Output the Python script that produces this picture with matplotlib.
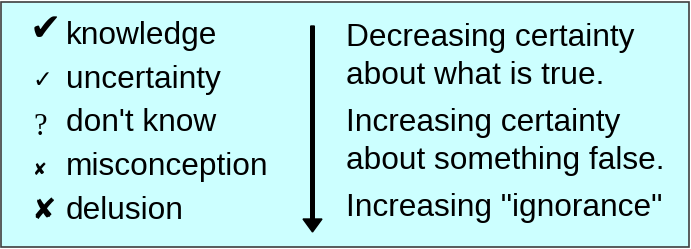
import matplotlib.pyplot as plt
from matplotlib.patches import Rectangle, FancyArrow

W, H = 691, 249

# left column: symbol + term
symbols = ['\u2714', '\u2713', '?', '\u2718', '\u2718']
terms = ['knowledge', 'uncertainty', "don't know", 'misconception', 'delusion']

# right column: description lines
notes = ['Decreasing certainty', 'about what is true.',
         'Increasing certainty', 'about something false.',
         'Increasing "ignorance"']


def main():
    fig = plt.figure(figsize=(W / 100, H / 100), dpi=100)
    ax = fig.add_axes([0, 0, 1, 1])
    ax.set_xlim(0, W)
    ax.set_ylim(H, 0)
    ax.axis('off')

    # cyan panel with dark border
    ax.add_patch(Rectangle((1.5, 1.5), W - 3.5, H - 3.5, facecolor='#CCFFFF',
                           edgecolor='#404040', linewidth=1.2))

    font = 'Liberation Sans'
    size = 22.8

    # symbol styles (size, family, x, baseline)
    sym_style = [
        (27, 'DejaVu Sans', 30, 40),
        (17, 'DejaVu Sans', 32, 87),
        (22, 'Liberation Serif', 33, 135),
        (12, 'DejaVu Sans', 33, 175),
        (21, 'DejaVu Sans', 31, 219),
    ]
    base_left = [44, 88, 131, 175, 219]
    for i, (s, t) in enumerate(zip(symbols, terms)):
        fs, fam, sx, sy = sym_style[i]
        ax.text(sx, sy, s, fontsize=fs, family=fam, va='baseline',
                ha='left', color='black')
        ax.text(66, base_left[i], t, fontsize=size, family=font,
                va='baseline', ha='left', color='black')

    base_right = [46, 84, 131, 169, 216]
    for i, n in enumerate(notes):
        ax.text(346, base_right[i], n, fontsize=size, family=font,
                va='baseline', ha='left', color='black')

    # downward arrow
    ax.add_patch(FancyArrow(312.5, 26, 0, 206, width=3.6, head_width=19,
                            head_length=13, length_includes_head=True,
                            color='black'))

    fig.savefig('out.png', dpi=100)


if __name__ == "__main__":
    main()
